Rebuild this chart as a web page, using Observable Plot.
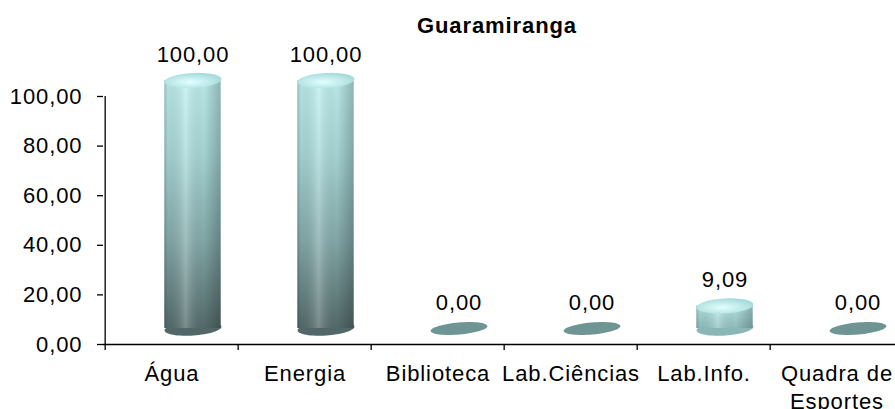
<!DOCTYPE html>
<html><head><meta charset="utf-8">
<script src="https://cdn.jsdelivr.net/npm/d3@7"></script>
<script src="https://cdn.jsdelivr.net/npm/@observablehq/plot@0.6"></script>
<style>html,body{margin:0;padding:0;background:#fff;overflow:hidden}</style>
</head><body>
<svg width="0" height="0" style="position:absolute">
<defs>
<linearGradient id="bodyTall" x1="0" y1="0" x2="0" y2="1">
 <stop offset="0" stop-color="#c0f0f0"/>
 <stop offset="0.3" stop-color="#aadada"/>
 <stop offset="0.65" stop-color="#86acac"/>
 <stop offset="1" stop-color="#566d6d"/>
</linearGradient>
<linearGradient id="bodyShort" x1="0" y1="0" x2="0" y2="1">
 <stop offset="0" stop-color="#b8eaea"/>
 <stop offset="1" stop-color="#94c2c2"/>
</linearGradient>
<linearGradient id="shade" x1="0" y1="0" x2="1" y2="0">
 <stop offset="0" stop-color="#000" stop-opacity="0.22"/>
 <stop offset="0.06" stop-color="#000" stop-opacity="0.06"/>
 <stop offset="0.38" stop-color="#fff" stop-opacity="0.22"/>
 <stop offset="0.7" stop-color="#000" stop-opacity="0.04"/>
 <stop offset="1" stop-color="#000" stop-opacity="0.25"/>
</linearGradient>
<radialGradient id="cap" cx="0.45" cy="0.6" r="0.6">
 <stop offset="0" stop-color="#e2ffff"/>
 <stop offset="1" stop-color="#a6dada"/>
</radialGradient>
</defs></svg>
<div id="chart"></div>
<script>
const title = "Guaramiranga";
const categories = ["Água", "Energia", "Biblioteca", "Lab.Ciências", "Lab.Info.", "Quadra de\nEsportes"];
const values = [100, 100, 0, 0, 9.09, 0];
const yTicks = [0, 20, 40, 60, 80, 100];

const data = categories.map((c, i) => ({cat: c, value: values[i]}));
const fmt = v => v.toFixed(2).replace(".", ",");

const X0 = 103, X1 = 905;
const BW = (X1 - X0) / categories.length;
const DX = 21, DY = -16, RX = 28.5;
const INSET = BW / 2 - RX;
const FONT = "Liberation Sans, Arial, sans-serif";

function ellipseSymbol(rx, ry, angleDeg) {
  const a = angleDeg * Math.PI / 180, c = Math.cos(a), s = Math.sin(a);
  return {
    draw(ctx) {
      const n = 64;
      for (let k = 0; k <= n; k++) {
        const t = 2 * Math.PI * k / n;
        const x = rx * Math.cos(t), y = ry * Math.sin(t);
        const X = x * c - y * s, Y = x * s + y * c;
        if (k === 0) ctx.moveTo(X, Y); else ctx.lineTo(X, Y);
      }
      ctx.closePath();
    }
  };
}

const chart = Plot.plot({
  width: 895,
  height: 409,
  marginLeft: 103,
  marginRight: 0,
  marginTop: 96,
  marginBottom: 65,
  x: {domain: categories, range: [X0, X1], padding: 0, axis: null},
  y: {domain: [0, 100], axis: null},
  style: {fontFamily: FONT, fontSize: "22px", color: "black", background: "white", overflow: "visible", letterSpacing: "0.9px"},
  marks: [
    Plot.text([title], {frameAnchor: "top", dx: -2.5, dy: -71, lineAnchor: "middle", fontWeight: "bold", fontSize: 22, fill: "black"}),
    // bottom ellipses
    Plot.dot(data, {filter: d => d.value >= 50, x: "cat", y: () => 0, dx: DX, dy: DY, r: 5, symbol: ellipseSymbol(RX, 7, -4), fill: "#526868", stroke: "none"}),
    Plot.dot(data, {filter: d => d.value > 0 && d.value < 50, x: "cat", y: () => 0, dx: DX, dy: DY, r: 5, symbol: ellipseSymbol(RX, 7, -4), fill: "#8ab6b6", stroke: "none"}),
    // bodies
    Plot.barY(data, {filter: d => d.value >= 50, x: "cat", y1: 0, y2: "value", dx: DX, dy: DY, insetLeft: INSET, insetRight: INSET, fill: "url(#bodyTall)"}),
    Plot.barY(data, {filter: d => d.value > 0 && d.value < 50, x: "cat", y1: 0, y2: "value", dx: DX, dy: DY, insetLeft: INSET, insetRight: INSET, fill: "url(#bodyShort)"}),
    Plot.barY(data, {filter: d => d.value > 0, x: "cat", y1: 0, y2: "value", dx: DX, dy: DY, insetLeft: INSET, insetRight: INSET, fill: "url(#shade)"}),
    // top caps
    Plot.dot(data, {filter: d => d.value > 0, x: "cat", y: "value", dx: DX, dy: DY, r: 5, symbol: ellipseSymbol(RX, 7.5, -3), fill: "url(#cap)", stroke: "none"}),
    // zero discs
    Plot.dot(data, {filter: d => d.value === 0, x: "cat", y: () => 0, dx: DX, dy: DY, r: 5, symbol: ellipseSymbol(RX, 6, -5), fill: "#6f9494", stroke: "none"}),
    // value labels
    Plot.text(data, {x: "cat", y: "value", text: d => fmt(d.value), dx: DX, dy: -35, lineAnchor: "bottom", fontSize: 22, fill: "black"}),
    // axes
    Plot.axisY(yTicks, {tickSize: 6, tickPadding: 15, tickFormat: fmt, fontSize: 22, strokeWidth: 1.3, label: null}),
    Plot.ruleX([categories[0]], {dx: -BW / 2, y1: 0, y2: 100, strokeWidth: 1.3}),
    Plot.ruleY([0], {strokeWidth: 1.3}),
    Plot.axisX({tickSize: 6, tickFormat: () => "", dx: -BW / 2, strokeWidth: 1.3, label: null}),
    Plot.text(data, {filter: d => !d.cat.includes("\n"), x: "cat", frameAnchor: "bottom", text: "cat", dy: 21, lineAnchor: "top", fontSize: 22, fill: "black"}),
    Plot.text(data, {filter: d => d.cat.includes("\n"), x: "cat", frameAnchor: "bottom", text: "cat", dy: 17, lineAnchor: "top", lineHeight: 1.27, fontSize: 22, fill: "black"})
  ]
});
document.getElementById("chart").appendChild(chart);
</script>
</body></html>
